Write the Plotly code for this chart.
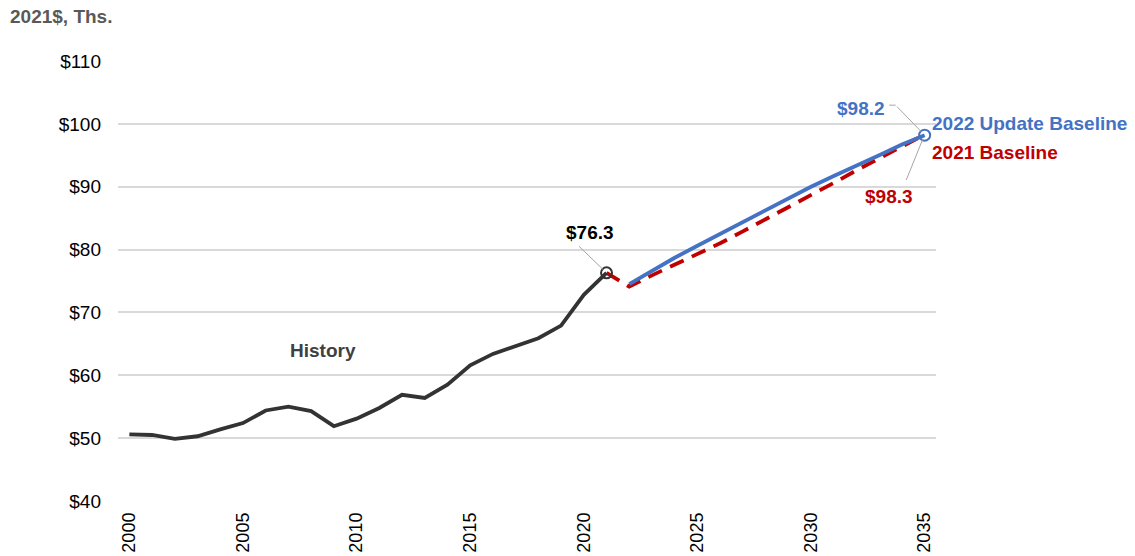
import plotly.graph_objects as go

hist_years = list(range(2000, 2022))
hist_vals = [50.6, 50.5, 49.9, 50.3, 51.4, 52.4, 54.4, 55.0, 54.3, 51.9, 53.1, 54.8,
             56.9, 56.4, 58.5, 61.6, 63.4, 64.7, 65.9, 67.9, 72.8, 76.3]

base21_years = list(range(2021, 2036))
base21_vals = [76.3, 74.1, 75.9, 77.6, 79.3, 81.0, 82.9, 84.8, 86.7, 88.6, 90.6, 92.6, 94.5, 96.4, 98.3]

upd22_years = list(range(2022, 2036))
upd22_vals = [74.5, 76.6, 78.7, 80.6, 82.5, 84.4, 86.3, 88.2, 90.0, 91.7, 93.3, 95.0, 96.7, 98.2]

y_ticks = [40, 50, 60, 70, 80, 90, 100, 110]
x_ticks = [2000, 2005, 2010, 2015, 2020, 2025, 2030, 2035]

BLUE = "#4472C4"
RED = "#C00000"
DARK = "#333333"
FONT = "Liberation Sans, Arial, sans-serif"

fig = go.Figure()
fig.add_trace(go.Scatter(x=base21_years, y=base21_vals, mode="lines",
                         line=dict(color=RED, width=3.8, dash="15px,9px"), showlegend=False))
fig.add_trace(go.Scatter(x=upd22_years, y=upd22_vals, mode="lines",
                         line=dict(color=BLUE, width=3.8), showlegend=False))
fig.add_trace(go.Scatter(x=hist_years, y=hist_vals, mode="lines",
                         line=dict(color=DARK, width=3.8), showlegend=False))
# end markers
fig.add_trace(go.Scatter(x=[hist_years[-1]], y=[hist_vals[-1]], mode="markers",
                         marker=dict(size=11, color="rgba(0,0,0,0)", line=dict(color=DARK, width=2)),
                         showlegend=False))
fig.add_trace(go.Scatter(x=[upd22_years[-1]], y=[upd22_vals[-1]], mode="markers",
                         marker=dict(size=11, color="rgba(0,0,0,0)", line=dict(color=BLUE, width=2)),
                         showlegend=False))

ann = []
LEAD = "#a6a6a6"
# leader lines
ann.append(dict(x=hist_years[-1], y=hist_vals[-1], text="", showarrow=True, arrowhead=0,
                arrowwidth=1, arrowcolor=LEAD, ax=-29, ay=-28, standoff=5))
ann.append(dict(x=hist_years[-1], y=hist_vals[-1], text="<b>$76.3</b>", showarrow=False,
                xshift=-17, yshift=40, font=dict(color="#000000", size=19)))
ann.append(dict(x=upd22_years[-1], y=upd22_vals[-1], text="", showarrow=True, arrowhead=0,
                arrowwidth=1, arrowcolor=LEAD, ax=-29, ay=-30, standoff=5))
ann.append(dict(x=upd22_years[-1], y=upd22_vals[-1], text="", showarrow=True, arrowhead=0,
                arrowwidth=1, arrowcolor=LEAD, ax=-8, ay=0, xshift=-29, yshift=30))
ann.append(dict(x=upd22_years[-1], y=upd22_vals[-1], text="<b>$98.2</b>", showarrow=False,
                xshift=-64, yshift=27, font=dict(color=BLUE, size=19)))
ann.append(dict(x=base21_years[-1], y=base21_vals[-1], text="", showarrow=True, arrowhead=0,
                arrowwidth=1, arrowcolor=LEAD, ax=-19, ay=47, standoff=5))
ann.append(dict(x=base21_years[-1], y=base21_vals[-1], text="<b>$98.3</b>", showarrow=False,
                xshift=-36, yshift=-62, font=dict(color=RED, size=19)))
ann.append(dict(x=upd22_years[-1], y=upd22_vals[-1], text="<b>2022 Update Baseline</b>",
                showarrow=False, xanchor="left", xshift=5, yshift=12, font=dict(color=BLUE, size=19)))
ann.append(dict(x=base21_years[-1], y=base21_vals[-1], text="<b>2021 Baseline</b>",
                showarrow=False, xanchor="left", xshift=5, yshift=-18, font=dict(color=RED, size=19)))
ann.append(dict(x=2008.5, y=63.9, text="<b>History</b>", showarrow=False,
                font=dict(color="#404040", size=19)))
ann.append(dict(xref="paper", yref="paper", x=-0.1345, y=1.1, xanchor="left", yanchor="middle",
                text="<b>2021$, Ths.</b>", showarrow=False, font=dict(color="#595959", size=19)))

fig.update_layout(
    width=1135, height=556,
    margin=dict(l=118, r=199, t=61, b=55),
    plot_bgcolor="white", paper_bgcolor="white",
    font=dict(family=FONT, color="#000000", size=19),
    annotations=ann,
    xaxis=dict(range=[1999.5, 2035.5], tickvals=x_ticks, ticktext=[str(v) for v in x_ticks],
               tickangle=-90, showgrid=False, zeroline=False, showline=False, automargin=False,
               tickfont=dict(size=18), ticks="", ticklabelstandoff=7),
    yaxis=dict(range=[40, 110], tickvals=y_ticks, ticktext=[f"${v}" for v in y_ticks],
               showgrid=True, gridcolor="#d9d9d9", gridwidth=1.5, zeroline=False, showline=False,
               automargin=False, tickfont=dict(size=19), ticks="", ticklabelstandoff=16),
)
fig.write_html("out.html", config={"displayModeBar": False},
               post_script="document.body.style.margin='0';document.body.style.overflow='hidden';")
